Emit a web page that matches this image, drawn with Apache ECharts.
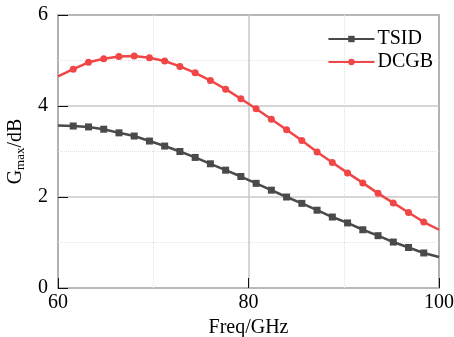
<!DOCTYPE html>
<html>
<head>
<meta charset="utf-8">
<script src="https://cdn.jsdelivr.net/npm/echarts@6/dist/echarts.min.js"></script>
<style>
  html, body { margin: 0; padding: 0; background: #fff; }
  #chart { width: 454px; height: 337px; }
</style>
</head>
<body>
<div id="chart"></div>
<script>
// frequency points (GHz)
const freq = [60, 61.6, 63.2, 64.8, 66.4, 68, 69.6, 71.2, 72.8, 74.4, 76, 77.6, 79.2,
  80.8, 82.4, 84, 85.6, 87.2, 88.8, 90.4, 92, 93.6, 95.2, 96.8, 98.4, 100];
const tsid = [3.57, 3.56, 3.54, 3.49, 3.41, 3.34, 3.23, 3.12, 3.00, 2.87, 2.73, 2.59, 2.45,
  2.30, 2.15, 2.00, 1.86, 1.71, 1.56, 1.43, 1.28, 1.15, 1.01, 0.89, 0.77, 0.68];
const dcgb = [4.65, 4.81, 4.96, 5.04, 5.09, 5.10, 5.06, 4.99, 4.87, 4.73, 4.56, 4.37, 4.16,
  3.94, 3.71, 3.48, 3.24, 2.99, 2.76, 2.53, 2.31, 2.08, 1.87, 1.66, 1.45, 1.28];
const seriesNames = ['TSID', 'DCGB'];

const font = 'Liberation Serif';

// no markers on the two end points (they sit on the frame)
function toData(ys) {
  return freq.map((x, i) => {
    const item = { value: [x, ys[i]] };
    if (i === 0 || i === freq.length - 1) item.symbolSize = 0;
    return item;
  });
}

const chart = echarts.init(document.getElementById('chart'));
chart.setOption({
  animation: false,
  textStyle: { fontFamily: font },
  grid: {
    left: 58, right: 15, top: 15, bottom: 49,
    containLabel: false, outerBoundsMode: 'none',
    show: true, borderColor: '#111', borderWidth: 1.2
  },
  legend: {
    orient: 'vertical',
    right: 16, top: 24,
    itemWidth: 46, itemHeight: 8, itemGap: 3,
    textStyle: { fontFamily: font, fontSize: 20, color: '#000', padding: [0, 0, 0, -2] },
    data: seriesNames
  },
  xAxis: {
    type: 'value', min: 60, max: 100, interval: 20,
    name: 'Freq/GHz', nameLocation: 'middle', nameGap: 28,
    nameTextStyle: { fontFamily: font, fontSize: 20, color: '#000' },
    axisLine: { show: false },
    axisTick: { show: true, inside: true, length: 10, lineStyle: { color: '#111' } },
    axisLabel: { fontFamily: font, fontSize: 20, color: '#000', margin: 5 },
    splitLine: { show: true, lineStyle: { color: '#c8c8c8', width: 1.5 } },
    minorTick: { show: false, splitNumber: 2 },
    minorSplitLine: { show: true, lineStyle: { color: '#e2e2e2', type: 'dotted', width: 1 } }
  },
  yAxis: {
    type: 'value', min: 0, max: 6, interval: 2,
    name: '{n|G}{s|max}{n|/dB}', nameLocation: 'middle', nameGap: 28,
    nameTextStyle: {
      rich: {
        n: { fontFamily: font, fontSize: 20, color: '#000' },
        s: { fontFamily: font, fontSize: 13, color: '#000', verticalAlign: 'bottom', padding: [10, 0, 0, 0] }
      }
    },
    axisLine: { show: false },
    axisTick: { show: true, inside: true, length: 10, lineStyle: { color: '#111' } },
    axisLabel: { fontFamily: font, fontSize: 20, color: '#000', margin: 10 },
    splitLine: { show: true, lineStyle: { color: '#c8c8c8', width: 1.5 } },
    minorTick: { show: false, splitNumber: 2 },
    minorSplitLine: { show: true, lineStyle: { color: '#e2e2e2', type: 'dotted', width: 1 } }
  },
  series: [
    {
      name: seriesNames[0], type: 'line', data: toData(tsid),
      symbol: 'rect', symbolSize: 7,
      itemStyle: { color: '#4a4a4a' },
      lineStyle: { color: '#4a4a4a', width: 2.5 }
    },
    {
      name: seriesNames[1], type: 'line', data: toData(dcgb),
      symbol: 'circle', symbolSize: 7,
      itemStyle: { color: '#f04646' },
      lineStyle: { color: '#f04646', width: 2.5 }
    }
  ]
});
</script>
</body>
</html>
